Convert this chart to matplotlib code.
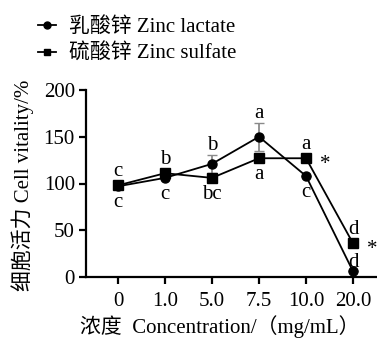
import matplotlib
matplotlib.use("Agg")
import matplotlib.pyplot as plt
from matplotlib.lines import Line2D

plt.rcParams['font.family'] = ['Liberation Serif', 'Noto Sans CJK SC']
plt.rcParams['font.size'] = 15

categories = ["0", "1.0", "5.0", "7.5", "10.0", "20.0"]
lactate = [97, 106, 121, 150, 108, 6]
lactate_err = [0, 0, 10, 15, 0, 0]
sulfate = [98, 111, 106, 127, 127, 36]
sulfate_err = [0, 0, 0, 0, 0, 0]
lactate_letters = ["c", "c", "b", "a", "c", "d"]
lactate_pos = ["below", "below", "above", "above", "below", "above"]
sulfate_letters = ["c", "b", "bc", "a", "a", "d"]
sulfate_pos = ["above", "above", "below", "below", "above", "above"]
sulfate_star = [False, False, False, False, True, True]

FS = 15
PX = 0.72  # points per pixel at dpi 100

fig = plt.figure(figsize=(3.77, 3.41), dpi=100)
ax = fig.add_axes([86/377, 64/341, 1 - 86/377, 187/341])
x = list(range(len(categories)))

ax.errorbar(x, lactate, yerr=lactate_err, color='black', marker='o', ms=6.5,
            lw=1.3, ecolor='#8a8a8a', elinewidth=1.3, capsize=3.5, zorder=3)
ax.errorbar(x, sulfate, yerr=sulfate_err, color='black', marker='s', ms=6.5,
            lw=1.3, ecolor='#8a8a8a', elinewidth=1.3, capsize=3.5, zorder=3)

px_per_unit = 187 / 200.0

def put(xi, yv, err, txt, pos, small=False):
    if pos == "above":
        off = max(16, err * px_per_unit + 12)
        if small:
            off = 11
        dy = off * PX
    else:
        dy = -14 * PX
    ax.annotate(txt, (xi, yv), xytext=(0, dy), textcoords='offset points',
                ha='center', va='center_baseline', fontsize=FS, annotation_clip=False)

for i in x:
    put(i, lactate[i], lactate_err[i], lactate_letters[i], lactate_pos[i],
        small=(i == len(x) - 1))
    put(i, sulfate[i], sulfate_err[i], sulfate_letters[i], sulfate_pos[i])
    if sulfate_star[i]:
        ax.annotate("*", (i, sulfate[i]), xytext=(19 * PX, -6 * PX), textcoords='offset points',
                    ha='center', va='center', fontsize=FS, annotation_clip=False)

ax.set_xlim(-0.68, 5.51)
ax.set_ylim(0, 200)
ax.set_yticks([0, 50, 100, 150, 200])
ax.set_xticks(x)
ax.set_xticklabels(categories)
ax.spines['top'].set_visible(False)
ax.spines['right'].set_visible(False)
for s in ['left', 'bottom']:
    ax.spines[s].set_linewidth(1.6)
ax.tick_params(direction='out', length=5, width=1.6, labelsize=FS, pad=3)
ax.tick_params(axis='x', pad=6)

ax.set_ylabel("细胞活力 Cell vitality/%", fontsize=FS)
ax.set_xlabel("浓度  Concentration/（mg/mL）", fontsize=FS)
ax.yaxis.label.set_va('center')
ax.yaxis.set_label_coords((23 - 86) / 291, (277 - 185) / 187)
ax.xaxis.label.set_va('center')
ax.xaxis.set_label_coords((220 - 86) / 291, -(327 - 277) / 187)

handles = [Line2D([], [], color='black', marker='o', ms=5, lw=1.3),
           Line2D([], [], color='black', marker='s', ms=5, lw=1.3)]
fig.legend(handles, ["乳酸锌 Zinc lactate", "硫酸锌 Zinc sulfate"],
           loc='upper left', bbox_to_anchor=(0.05, 1.005), frameon=False,
           handlelength=0.9, handletextpad=0.6, labelspacing=0.35, fontsize=FS)

fig.savefig("out.png", dpi=100)
